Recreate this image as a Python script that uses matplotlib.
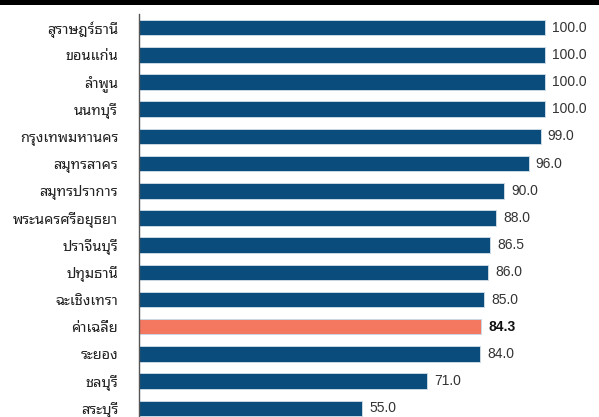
import matplotlib
matplotlib.use('Agg')
import matplotlib.pyplot as plt
from matplotlib.patches import Rectangle

provinces = ['สุราษฎร์ธานี', 'ขอนแก่น', 'ลำพูน', 'นนทบุรี', 'กรุงเทพมหานคร',
             'สมุทรสาคร', 'สมุทรปราการ', 'พระนครศรีอยุธยา', 'ปราจีนบุรี', 'ปทุมธานี',
             'ฉะเชิงเทรา', 'ค่าเฉลี่ย', 'ระยอง', 'ชลบุรี', 'สระบุรี']
scores = [100.0, 100.0, 100.0, 100.0, 99.0,
          96.0, 90.0, 88.0, 86.5, 86.0,
          85.0, 84.3, 84.0, 71.0, 55.0]
average_label = 'ค่าเฉลี่ย'

thai_font = ['Noto Sans Thai Looped', 'DejaVu Sans']
num_font = ['Liberation Sans', 'DejaVu Sans']

fig = plt.figure(figsize=(5.99, 4.17), dpi=100)
ax = fig.add_axes([139 / 599, 0, 1 - 139 / 599, 1 - 14 / 417])

colors = ['#f4775f' if p == average_label else '#0a4d7c' for p in provinces]
pos = list(range(len(provinces)))
ax.barh(pos, scores, height=0.57, color=colors, edgecolor='#c9d8e4', linewidth=0.7)

for i, (p, v) in enumerate(zip(provinces, scores)):
    bold = p == average_label
    ax.text(v + 1.7, i, f'{v:.1f}', va='center', ha='left', fontsize=10,
            family=num_font, color='#111111' if bold else '#333333',
            fontweight='bold' if bold else 'normal')

ax.set_yticks(pos)
ax.set_yticklabels(provinces)
for lab in ax.get_yticklabels():
    lab.set_fontfamily(thai_font)
    lab.set_fontsize(10.5)
    lab.set_color('#222222')
    if lab.get_text() == average_label:
        lab.set_fontweight('bold')
ax.tick_params(axis='y', length=0, pad=15)
ax.set_xticks([])
ax.set_xlim(0, 100 * (599 - 139) / (545 - 139))
ax.set_ylim(14.32, -0.5)
for s in ['top', 'right', 'bottom']:
    ax.spines[s].set_visible(False)
ax.spines['left'].set_color('#555555')
ax.spines['left'].set_linewidth(1.0)

# black band across the top edge
fig.add_artist(Rectangle((0, 1 - 4.5 / 417), 1, 4.5 / 417, transform=fig.transFigure,
                         facecolor='black', edgecolor='none'))

fig.savefig('out.png', dpi=100)
